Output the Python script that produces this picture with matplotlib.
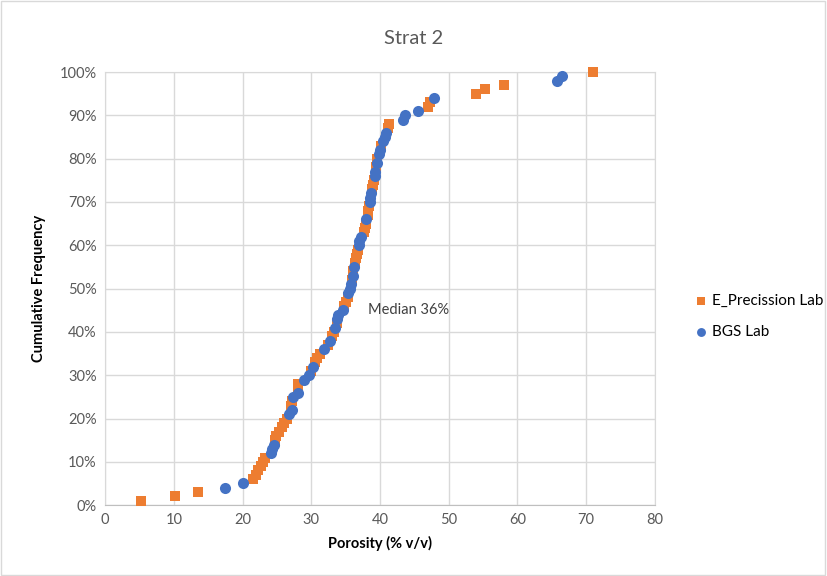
import matplotlib
matplotlib.use("Agg")
import matplotlib.pyplot as plt
from matplotlib.ticker import FuncFormatter, MultipleLocator
from matplotlib.patches import Rectangle

plt.rcParams['font.family'] = ['Lato', 'DejaVu Sans']

# E_Precission Lab: cumulative frequency (%) and porosity (% v/v)
e_freq = [1, 2, 3, 6, 7, 8, 9, 10, 11, 15, 16, 17, 18, 19, 20, 23, 24, 27, 28, 31,
          33, 34, 35, 37, 39, 40, 42, 46, 47, 48, 52, 54, 56, 57, 58, 59, 63, 64, 65,
          67, 68, 69, 73, 74, 75, 78, 80, 83, 87, 88, 92, 93, 95, 96, 97, 100]
e_por = [5.2, 10.2, 13.5, 21.5, 21.9, 22.2, 22.7, 23.0, 23.2, 24.7, 24.9, 25.3, 25.8,
         26.1, 26.4, 27.0, 27.2, 28.0, 28.1, 30.0, 30.5, 30.9, 31.2, 32.4, 33.0, 33.3,
         33.7, 34.8, 35.0, 35.3, 35.9, 36.1, 36.4, 36.5, 36.7, 36.8, 37.6, 37.8, 37.9,
         38.2, 38.3, 38.4, 38.8, 39.0, 39.1, 39.4, 39.6, 40.2, 41.1, 41.3, 47.0, 47.2,
         54.0, 55.3, 58.0, 71.0]

# BGS Lab
b_freq = [4, 5, 12, 13, 14, 21, 22, 25, 26, 29, 30, 32, 36, 38, 41, 43, 44, 45, 49,
          50, 51, 53, 55, 60, 61, 62, 66, 70, 71, 72, 76, 77, 79, 81, 82, 84, 85, 86,
          89, 90, 91, 94, 98, 99]
b_por = [17.5, 20.0, 24.1, 24.3, 24.6, 26.7, 27.2, 27.4, 28.0, 29.0, 29.6, 30.3, 31.8,
         32.7, 33.5, 33.7, 33.9, 34.6, 35.4, 35.6, 35.8, 36.0, 36.2, 36.9, 37.0, 37.2,
         38.0, 38.5, 38.6, 38.7, 39.2, 39.3, 39.5, 39.8, 40.0, 40.4, 40.7, 40.9, 43.3,
         43.6, 45.5, 47.8, 65.8, 66.5]

fig = plt.figure(figsize=(8.27, 5.76), dpi=100)
ax = fig.add_axes([0.127, 0.123, 0.665, 0.752])

ax.scatter(e_por, [f / 100 for f in e_freq], marker='s', s=44, color='#ED7D31',
           label='E_Precission Lab', zorder=3, linewidths=0, clip_on=False)
ax.scatter(b_por, [f / 100 for f in b_freq], marker='o', s=64, color='#4472C4',
           label='BGS Lab', zorder=4, linewidths=0, clip_on=False)

ax.set_xlim(0, 80)
ax.set_ylim(0, 1.0)
ax.xaxis.set_major_locator(MultipleLocator(10))
ax.yaxis.set_major_locator(MultipleLocator(0.1))
ax.yaxis.set_major_formatter(FuncFormatter(lambda v, p: f"{v*100:.0f}%"))
ax.grid(True, color='#d9d9d9', linewidth=1)
ax.set_axisbelow(True)
for s in ax.spines.values():
    s.set_color('#d9d9d9')
ax.spines['bottom'].set_color('#bfbfbf')
ax.tick_params(length=0, labelsize=10.5, colors='#595959', pad=6)

ax.set_xlabel('Porosity (% v/v)', fontsize=10.5, fontweight='bold', labelpad=6)
ax.set_ylabel('Cumulative Frequency', fontsize=10.5, fontweight='bold', labelpad=10)
fig.text(0.5, 0.934, 'Strat 2', ha='center', va='center', fontsize=14.5, color='#595959')

ax.text(38.2, 0.45, 'Median 36%', fontsize=10.5, color='#404040', va='center', ha='left')

fig.legend(loc='center left', bbox_to_anchor=(0.822, 0.451), frameon=False,
           fontsize=11, handletextpad=0.2, labelspacing=1.1, markerscale=0.8,
           handlelength=1.0)

fig.patches.append(Rectangle((0.001, 0.001), 0.997, 0.997, transform=fig.transFigure,
                             fill=False, edgecolor='#d9d9d9', linewidth=1))

fig.savefig('out.png', dpi=100)
